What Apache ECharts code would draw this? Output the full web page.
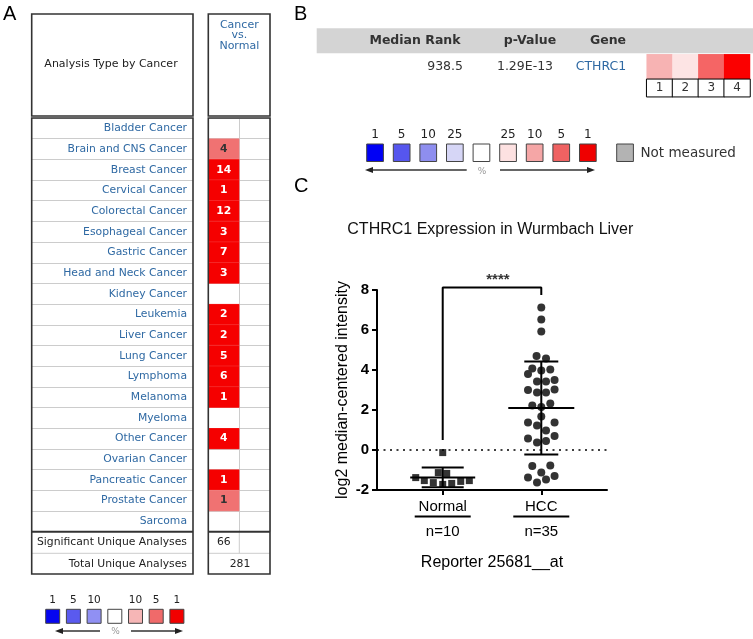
<!DOCTYPE html>
<html>
<head>
<meta charset="utf-8">
<script src="https://cdn.jsdelivr.net/npm/echarts@6/dist/echarts.min.js"></script>
<style>html,body{margin:0;padding:0;background:#fff}#c{width:753px;height:639px}</style>
</head>
<body>
<div id="c"></div>
<script>
// ---------- Panel A data ----------
const cancerTypes = ['Bladder Cancer','Brain and CNS Cancer','Breast Cancer','Cervical Cancer','Colorectal Cancer','Esophageal Cancer','Gastric Cancer','Head and Neck Cancer','Kidney Cancer','Leukemia','Liver Cancer','Lung Cancer','Lymphoma','Melanoma','Myeloma','Other Cancer','Ovarian Cancer','Pancreatic Cancer','Prostate Cancer','Sarcoma'];
const cancerCounts = [null,4,14,1,12,3,7,3,null,2,2,5,6,1,null,4,null,1,1,null];
const cancerTiers  = [null,5,1,1,1,1,1,1,null,1,1,1,1,1,null,1,null,1,5,null];
const summaryLabels = ['Significant Unique Analyses','Total Unique Analyses'];
const summaryValues = ['66','281'];
const legendALabels = ['1','5','10','','10','5','1'];
const legendAColors = ['#0505f0','#5a5aef','#9090f3','#ffffff','#f6b6b6','#f06a6a','#f20000'];

// ---------- Panel B data ----------
const metaHeaders = ['Median Rank','p-Value','Gene'];
const metaValues = ['938.5','1.29E-13','CTHRC1'];
const rankCols = ['1','2','3','4'];
const rankColors = ['#f7b3b3','#fde4e4','#f56565','#fb0000'];
const legendBLabels = ['1','5','10','25','','25','10','5','1'];
const legendBColors = ['#0000f5','#5656ee','#8e8eef','#d6d6f6','#ffffff','#fde1e1','#f5a6a6','#ef6262','#ef0000'];
const notMeasured = 'Not measured';

// ---------- Panel C data ----------
const chartTitle = 'CTHRC1 Expression in Wurmbach Liver';
const groupNames = ['Normal','HCC'];
const groupN = ['n=10','n=35'];
const groupX = [1, 2.5];
const normalValues = [-0.13,-1.13,-1.17,-1.38,-1.53,-1.63,-1.72,-1.67,-1.57,-1.53];
const normalJitter = [0,-0.067,0.061,-0.411,-0.28,-0.143,0,0.137,0.274,0.405];
const hccValues = [7.12,6.53,5.92,4.70,4.57,4.08,3.98,4.03,3.80,3.43,3.43,3.50,3.00,2.87,2.87,3.03,2.22,2.15,2.33,1.67,1.38,1.22,1.38,0.97,0.58,0.37,0.45,0.70,-0.80,-0.77,-1.13,-1.37,-1.63,-1.48,-1.30];
const hccJitter = [0,0,0,-0.072,0.072,-0.137,0,0.137,-0.202,-0.065,0.072,0.202,-0.202,-0.065,0.072,0.202,-0.137,0,0.137,0,-0.202,-0.065,0.202,0.072,-0.202,-0.065,0.072,0.202,-0.137,0.137,0,-0.202,-0.065,0.072,0.202];
const groupMeans = [-1.37, 2.10];
const groupSDs = [0.49, 2.32];
const sigLabel = '****';
const sigBracket = { lows: [0.5, 7.75], top: 8.13 };
const yTicks = { min: -2, max: 8, interval: 2 };
const yName = 'log2 median-centered intensity';
const xName = 'Reporter 25681__at';

// ---------- styles ----------
const FA = 'DejaVu Sans';
const FC = 'Liberation Sans';
const BLUE = '#2f69a3';
const tierColor = {1: '#f50000', 5: '#f07272'};
const tierText = {1: '#ffffff', 5: '#333333'};

const chart = echarts.init(document.getElementById('c'), null, {renderer: 'canvas'});

function T(x, y, text, o) {
  o = o || {};
  return {type: 'text', x: x, y: y, z: o.z || 50, style: {text: text, fill: o.fill || '#222',
    font: (o.weight || 'normal') + ' ' + (o.size || 11) + 'px "' + (o.family || FA) + '"',
    textAlign: o.align || 'center', textVerticalAlign: o.va || 'middle',
    align: o.align || 'center', verticalAlign: o.va || 'middle'}};
}
function L(x1, y1, x2, y2, stroke, w, z) {
  return {type: 'line', z: z || 60, shape: {x1: x1, y1: y1, x2: x2, y2: y2}, style: {stroke: stroke, lineWidth: w}};
}
function R(x, y, w, h, fill, stroke, lw, z) {
  return {type: 'rect', z: z || 60, shape: {x: x, y: y, width: w, height: h}, style: {fill: fill, stroke: stroke, lineWidth: lw || 0}};
}
function arrow(x1, x2, y) {
  const dir = x2 > x1 ? 1 : -1;
  return [L(x1, y, x2 - dir * 6, y, '#333', 1.3),
    {type: 'polygon', z: 60, shape: {points: [[x2, y], [x2 - dir * 8, y - 3], [x2 - dir * 8, y + 3]]}, style: {fill: '#222'}}];
}

const G = [];
G.push(T(3, 4, 'A', {size: 20, family: FC, align: 'left', va: 'top', fill: '#000'}));
G.push(T(294, 4, 'B', {size: 20, family: FC, align: 'left', va: 'top', fill: '#000'}));
G.push(T(294, 176, 'C', {size: 20, family: FC, align: 'left', va: 'top', fill: '#000'}));

const LX = 31.7, LW = 161.3, RX = 208.3, RW = 61.7;
G.push(R(LX, 14, LW, 102, 'none', '#333', 1.6, 70));
G.push(R(RX, 14, RW, 102, 'none', '#333', 1.6, 70));
G.push(R(LX, 118, LW, 456, 'none', '#333', 1.6, 70));
G.push(R(RX, 118, RW, 456, 'none', '#333', 1.6, 70));
G.push(T(111, 64, 'Analysis Type by Cancer', {size: 11}));
G.push(T(239.3, 25, 'Cancer', {size: 11, fill: BLUE}));
G.push(T(239.3, 35, 'vs.', {size: 11, fill: BLUE}));
G.push(T(239.3, 46.5, 'Normal', {size: 11, fill: BLUE}));
G.push(L(LX, 531.7, LX + LW, 531.7, '#333', 2, 70));
G.push(L(RX, 531.7, RX + RW, 531.7, '#333', 2, 70));
G.push(L(LX, 553.3, LX + LW, 553.3, '#cccccc', 1));
G.push(L(RX, 553.3, RX + RW, 553.3, '#cccccc', 1));
G.push(L(239.3, 531.7, 239.3, 553.3, '#cccccc', 1));
G.push(T(187, 542.5, summaryLabels[0], {size: 10.8, align: 'right'}));
G.push(T(187, 563.7, summaryLabels[1], {size: 10.8, align: 'right'}));
G.push(T(223.8, 542.5, summaryValues[0], {size: 10.8}));
G.push(T(240, 563.7, summaryValues[1], {size: 10.8}));
legendAColors.forEach(function (c, i) {
  const x = 45.7 + i * 20.7;
  G.push(R(x, 609.3, 14, 14, c, '#444', 1));
  if (legendALabels[i]) G.push(T(x + 7, 600, legendALabels[i], {size: 10.5}));
});
arrow(100, 55, 631).forEach(function (e) { G.push(e); });
arrow(131, 183, 631).forEach(function (e) { G.push(e); });
G.push(T(115.5, 632, '%', {size: 9, fill: '#999'}));

G.push(R(316.7, 28.3, 436.3, 25, '#d4d4d4', null, 0, 5));
G.push(T(415, 41, metaHeaders[0], {size: 12.5, weight: 'bold', fill: '#333'}));
G.push(T(530, 41, metaHeaders[1], {size: 12.5, weight: 'bold', fill: '#333'}));
G.push(T(608, 41, metaHeaders[2], {size: 12.5, weight: 'bold', fill: '#333'}));
G.push(T(463, 67, metaValues[0], {size: 12.5, align: 'right', fill: '#333'}));
G.push(T(525, 67, metaValues[1], {size: 12.5, fill: '#333'}));
G.push(T(601, 67, metaValues[2], {size: 12.5, fill: BLUE}));
legendBColors.forEach(function (c, i) {
  const x = 366.7 + i * 26.6;
  G.push(R(x, 144, 16.7, 17.5, c, '#444', 1));
  if (legendBLabels[i]) G.push(T(x + 8.35, 135, legendBLabels[i], {size: 12}));
});
G.push(R(616.7, 144, 16.7, 17.5, '#b3b3b3', '#444', 1));
G.push(T(640.5, 153, notMeasured, {size: 13.5, align: 'left', fill: '#333'}));
arrow(466.7, 365, 170).forEach(function (e) { G.push(e); });
arrow(500, 595, 170).forEach(function (e) { G.push(e); });
G.push(T(482, 172, '%', {size: 9, fill: '#999'}));

G.push(T(347.3, 230, chartTitle, {size: 16, family: FC, align: 'left', fill: '#111'}));

const heatA = [];
cancerCounts.forEach(function (c, i) {
  if (c == null) return;
  heatA.push({value: [0, i, c], itemStyle: {color: tierColor[cancerTiers[i]]},
    label: {color: tierText[cancerTiers[i]]}});
});
const heatB = rankColors.map(function (c, i) { return {value: [i, 0, i + 1], itemStyle: {color: c}}; });
const heatB2 = rankCols.map(function (c, i) { return [i, 0, c]; });
const normalPts = normalValues.map(function (v, i) { return [groupX[0] + normalJitter[i], v]; });
const hccPts = hccValues.map(function (v, i) { return [groupX[1] + hccJitter[i], v]; });
const errData = groupX.map(function (x, i) { return [x, groupMeans[i], groupSDs[i], i]; });
const bracket = [[groupX[0], sigBracket.lows[0]], [groupX[0], sigBracket.top], [groupX[1], sigBracket.top], [groupX[1], sigBracket.lows[1]]];
const meanHalf = [32.5, 33];
const capHalf = [21, 17];

const hiddenCat = function (gi, data, extra) {
  return Object.assign({gridIndex: gi, type: 'category', data: data, axisLine: {show: false}, axisTick: {show: false}, axisLabel: {show: false}, splitLine: {show: false}}, extra || {});
};

const option = {
  animation: false,
  backgroundColor: '#fff',
  graphic: {elements: G},
  grid: [
    {left: LX, top: 118, width: LW, height: 413.7},
    {left: RX, top: 118, width: RW, height: 413.7},
    {left: 646.7, top: 54.3, width: 103.3, height: 25},
    {left: 646.7, top: 79.3, width: 103.3, height: 17.4},
    {left: 377, top: 290, width: 230, height: 200}
  ],
  xAxis: [
    {gridIndex: 0, type: 'value', show: false},
    hiddenCat(1, ['cvn', 'x'], {splitLine: {show: true, interval: 0, lineStyle: {color: '#cccccc', width: 1}}}),
    hiddenCat(2, rankCols),
    hiddenCat(3, rankCols),
    {gridIndex: 4, type: 'value', min: 0, max: 3.5,
      axisLine: {show: true, onZero: false, lineStyle: {color: '#000', width: 2}},
      axisTick: {show: true, customValues: groupX, length: 5, lineStyle: {color: '#000', width: 2}},
      axisLabel: {show: true, customValues: groupX, margin: 8, color: '#000', fontFamily: FC,
        formatter: function (v) {
          const i = groupX.indexOf(v);
          if (i < 0) return '';
          return '{n|' + groupNames[i] + '}\n{u| }\n{c|' + groupN[i] + '}';
        },
        rich: {
          n: {fontSize: 15, fontFamily: FC, color: '#000', lineHeight: 17, align: 'center'},
          u: {width: 56, height: 2, fontSize: 1, lineHeight: 3, backgroundColor: '#000', align: 'center'},
          c: {fontSize: 15, fontFamily: FC, color: '#000', lineHeight: 27, align: 'center'}
        }},
      splitLine: {show: false},
      name: xName, nameLocation: 'middle', nameGap: 65,
      nameTextStyle: {fontSize: 16, fontFamily: FC, color: '#000'}}
  ],
  yAxis: [
    hiddenCat(0, cancerTypes, {inverse: true, axisLabel: {show: false, interval: 0}, splitLine: {show: true, interval: 0, lineStyle: {color: '#cccccc', width: 1}}}),
    hiddenCat(1, cancerTypes, {inverse: true,
      axisLabel: {show: true, interval: 0, margin: 21.3, color: BLUE, fontSize: 10.8, fontFamily: FA},
      splitLine: {show: true, interval: 0, lineStyle: {color: '#cccccc', width: 1}}}),
    hiddenCat(2, ['g']),
    hiddenCat(3, ['n']),
    {gridIndex: 4, type: 'value', min: yTicks.min, max: yTicks.max, interval: yTicks.interval,
      axisLine: {show: true, onZero: false, lineStyle: {color: '#000', width: 2}},
      axisTick: {show: true, inside: false, length: 5, lineStyle: {color: '#000', width: 2}},
      axisLabel: {margin: 8, color: '#000', fontSize: 15, fontWeight: 'bold', fontFamily: FC},
      splitLine: {show: false},
      name: yName, nameLocation: 'middle', nameGap: 26,
      nameTextStyle: {fontSize: 16, fontFamily: FC, color: '#000'}}
  ],
  series: [
    {type: 'heatmap', xAxisIndex: 1, yAxisIndex: 1, data: heatA,
      itemStyle: {borderColor: 'rgba(255,255,255,0.25)', borderWidth: 0.5},
      label: {show: true, fontSize: 10.8, fontWeight: 'bold', fontFamily: FA, formatter: function (p) { return p.value[2]; }}},
    {type: 'heatmap', xAxisIndex: 2, yAxisIndex: 2, data: heatB},
    {type: 'heatmap', xAxisIndex: 3, yAxisIndex: 3, data: heatB2,
      itemStyle: {color: '#ffffff', borderColor: '#000', borderWidth: 1},
      label: {show: true, fontSize: 12, fontFamily: FA, color: '#333', formatter: function (p) { return p.value[2]; }}},
    {type: 'scatter', xAxisIndex: 4, yAxisIndex: 4, data: normalPts, symbol: 'rect', symbolSize: 7,
      itemStyle: {color: '#333333', opacity: 1},
      markLine: {silent: true, symbol: 'none', label: {show: false},
        lineStyle: {color: '#000', width: 1.6, type: [2, 4.5]}, data: [{yAxis: 0}]}},
    {type: 'scatter', xAxisIndex: 4, yAxisIndex: 4, data: hccPts, symbol: 'circle', symbolSize: 8,
      itemStyle: {color: '#333333', opacity: 1}},
    {type: 'custom', xAxisIndex: 4, yAxisIndex: 4, data: errData, z: 5,
      renderItem: function (params, api) {
        const x = api.value(0), m = api.value(1), sd = api.value(2), gi = api.value(3);
        const pm = api.coord([x, m]), pt = api.coord([x, m + sd]), pb = api.coord([x, m - sd]);
        const mh = meanHalf[gi], ch = capHalf[gi];
        const st = {stroke: '#000', lineWidth: 2};
        return {type: 'group', children: [
          {type: 'line', shape: {x1: pm[0] - mh, y1: pm[1], x2: pm[0] + mh, y2: pm[1]}, style: st},
          {type: 'line', shape: {x1: pt[0], y1: pt[1], x2: pb[0], y2: pb[1]}, style: st},
          {type: 'line', shape: {x1: pt[0] - ch, y1: pt[1], x2: pt[0] + ch, y2: pt[1]}, style: st},
          {type: 'line', shape: {x1: pb[0] - ch, y1: pb[1], x2: pb[0] + ch, y2: pb[1]}, style: st}
        ]};
      }},
    {type: 'line', xAxisIndex: 4, yAxisIndex: 4, data: bracket, clip: false, symbol: 'none',
      lineStyle: {color: '#000', width: 2}},
    {type: 'scatter', xAxisIndex: 4, yAxisIndex: 4, clip: false, symbolSize: 0,
      data: [[(groupX[0] + groupX[1]) / 2 + 0.09, sigBracket.top]],
      label: {show: true, position: 'top', distance: 0, formatter: sigLabel, fontSize: 15, fontWeight: 'bold', fontFamily: FC, color: '#000'}}
  ]
};
chart.setOption(option);
</script>
</body>
</html>
